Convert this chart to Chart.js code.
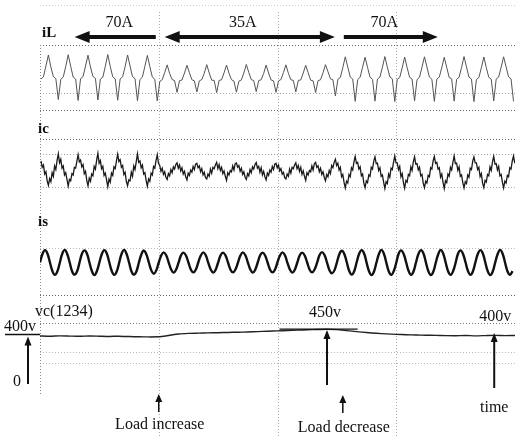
<!DOCTYPE html>
<html>
<head>
<meta charset="utf-8">
<script src="https://cdn.jsdelivr.net/npm/chart.js@4.4.1/dist/chart.umd.min.js"></script>
<style>
  html, body { margin: 0; padding: 0; background: #fff; }
  canvas { display: block; }
</style>
</head>
<body>
<canvas id="scope" width="515" height="437"></canvas>
<script>
// time base of the record (ms)
const TIME_MIN = 0;
const TIME_MAX = 480;
const GRID_TIMES = [120, 240, 360];

// load current iL (A), one sample every 2.5 ms from t = 1 ms
const IL_T0 = 1, IL_DT = 2.5;
const iL = [
  -6, 3, 52, 100, 46, 4, -5, -98,
  -8, 2, 49, 101, 50, 2, -7, -102,
  -5, 4, 51, 99, 47, 5, -4, -100,
  -7, 1, 50, 102, 49, 3, -6, -101,
  -6, 3, 48, 100, 51, 4, -5, -103,
  -9, 2, 50, 98, 48, 2, -8, -104,
  -18, -10, 22, 56, 18, -9, -14, -66,
  -14, -11, 20, 54, 21, -10, -15, -64,
  -15, -9, 19, 57, 20, -12, -13, -67,
  -13, -10, 21, 55, 19, -10, -16, -65,
  -16, -11, 20, 58, 22, -9, -14, -63,
  -14, -10, 18, 55, 20, -11, -15, -66,
  -15, -9, 22, 56, 19, -10, -13, -64,
  -13, -11, 20, 54, 21, -12, -15, -67,
  -14, -10, 21, 57, 26, -6, -10, -82,
  -8, 0, 44, 92, 47, 2, -7, -106,
  -9, 1, 46, 90, 45, 1, -8, -105,
  -7, 2, 45, 93, 46, 3, -6, -107,
  -8, 0, 43, 91, 44, 1, -7, -104,
  -9, 1, 46, 92, 47, 2, -8, -106,
  -7, 2, 44, 90, 45, 0, -6, -105,
  -8, 1, 45, 93, 46, 2, -7, -107,
  -9, 0, 43, 91, 44, 1, -8, -104,
  -7, 2, 46, 92, 47, 3, -6, -106
];

// compensator current ic (A), one sample every 1.25 ms from t = 1 ms
const IC_T0 = 1, IC_DT = 1.25;
const ic = [
  40, 12, 22, -18, -8, -48, -68, -38, -52, -12, -28, 18, 2, 42, 72, 32,
  48, 8, 18, -22, -12, -42, -72, -42, -48, -16, -22, 12, 8, 38, 68, 36,
  44, 14, 24, -16, -6, -46, -70, -36, -50, -18, -26, 16, 4, 44, 74, 30,
  42, 6, 16, -24, -14, -44, -74, -40, -54, -14, -24, 14, 6, 40, 70, 38,
  46, 12, 20, -20, -10, -50, -70, -44, -48, -10, -28, 18, 2, 36, 72, 34,
  40, 10, 22, -18, -12, -46, -72, -40, -50, -14, -22, 16, 8, 42, 68, 30,
  20, -6, 8, -20, -8, -32, -42, -16, -26, 2, -12, 14, 4, 24, 32, 8,
  22, -4, 10, -18, -6, -30, -44, -14, -24, 0, -10, 16, 2, 26, 30, 10,
  18, -8, 6, -22, -10, -34, -40, -18, -28, 4, -14, 12, 6, 22, 34, 6,
  24, -2, 12, -16, -4, -28, -46, -12, -22, -2, -8, 18, 0, 28, 31, 12,
  20, -6, 8, -20, -8, -32, -42, -16, -26, 2, -12, 14, 4, 24, 33, 8,
  16, -10, 10, -22, -6, -30, -44, -14, -24, 0, -10, 16, 2, 26, 30, 10,
  22, -4, 6, -18, -10, -34, -40, -18, -28, 4, -14, 12, 6, 22, 32, 6,
  20, -6, 12, -20, -4, -28, -46, -12, -22, -2, -8, 18, 0, 28, 34, 12,
  18, -8, 8, -20, -8, -32, -48, -20, -30, -2, -16, 20, 10, 34, 48, 20,
  30, 0, 12, -30, -20, -55, -80, -50, -58, -20, -30, 10, 0, 36, 60, 30,
  34, 4, 14, -26, -18, -58, -78, -48, -56, -22, -28, 12, 4, 38, 58, 28,
  30, -2, 10, -28, -22, -54, -82, -52, -60, -18, -32, 8, 2, 34, 62, 32,
  32, 2, 16, -30, -16, -56, -80, -46, -54, -20, -26, 14, -2, 36, 58, 26,
  28, 0, 12, -26, -20, -58, -78, -50, -58, -24, -30, 10, 4, 40, 60, 30,
  34, 4, 10, -32, -18, -54, -82, -48, -56, -18, -28, 12, 0, 34, 62, 28,
  30, -2, 14, -28, -22, -56, -80, -52, -60, -22, -32, 8, 2, 38, 58, 32,
  32, 2, 12, -30, -16, -58, -78, -46, -54, -20, -26, 14, -2, 36, 60, 26,
  28, 0, 16, -26, -20, -54, -80, -50, -58, -24, -30, 10, 4, 40, 62, 30
];

// source current is (A), one sample every 2.5 ms from t = 0
const IS_T0 = 0, IS_DT = 2.5;
const is = [
  0, 38, 55, 40, 1, -38, -55, -40,
  -1, 39, 56, 38, 0, -40, -54, -39,
  1, 40, 54, 39, -1, -39, -56, -38,
  0, 38, 55, 40, 1, -38, -55, -40,
  -1, 39, 56, 38, 0, -40, -54, -39,
  1, 37, 53, 36, 0, -35, -50, -35,
  0, 31, 45, 32, 1, -31, -45, -32,
  -1, 32, 44, 31, 0, -32, -44, -31,
  1, 31, 45, 32, -1, -31, -45, -32,
  0, 32, 44, 31, 0, -32, -44, -31,
  -1, 31, 45, 32, 1, -31, -45, -32,
  0, 32, 44, 31, 0, -32, -44, -31,
  1, 31, 45, 32, -1, -31, -45, -32,
  0, 32, 44, 31, 0, -32, -44, -31,
  -1, 33, 46, 33, 0, -34, -48, -35,
  0, 37, 52, 38, 1, -38, -54, -39,
  1, 39, 55, 40, 0, -39, -56, -40,
  0, 38, 56, 39, -1, -40, -55, -38,
  -1, 40, 54, 38, 1, -38, -55, -39,
  1, 39, 55, 40, 0, -39, -56, -40,
  0, 38, 56, 39, -1, -40, -55, -38,
  -1, 40, 54, 38, 1, -38, -55, -39,
  1, 39, 55, 40, 0, -39, -56, -40,
  0, 38, 56, 39, -1, -40, -55, -38
];

// dc link voltage vc(1234) (V), one sample every 10 ms from t = 0
const VC_T0 = 0, VC_DT = 10;
const vc = [
  388, 386, 389, 387, 385, 388, 386, 384, 386, 383,
  381, 380, 381, 392, 404, 409, 411, 413, 415, 417,
  419, 421, 424, 427, 430, 433, 436, 439, 441, 443,
  440, 432, 424, 416, 410, 405, 401, 398, 396, 394,
  393, 391, 390, 392, 389, 391, 393, 391, 392
];

// annotations
const currentBands = ['70A', '35A', '70A'];
const bandFrom = [35, 126, 307];
const bandTo = [117, 298, 402];
const bandTextAt = [80, 205, 348];
const bandHeads = ['start', 'both', 'end'];
const loadEvents = ['Load increase', 'Load decrease'];
const loadEventTimes = [120, 306];
const VC_NOMINAL = 400;
const VC_PEAK = 445;
const VC_PEAK_FROM = 242, VC_PEAK_TO = 321;
const VC_PEAK_TIME = 290;
const TIME_MARK = 459;

const toPoints = (vals, t0, dt) => vals.map((v, i) => ({ x: t0 + i * dt, y: v }));

// each trace gets its own hidden axis so it sits in its band: centre pixel, pixels per unit
const CANVAS_H = 437;
function band(centrePx, pxPerUnit) {
  return { min: (centrePx - CANVAS_H) / pxPerUnit, max: centrePx / pxPerUnit };
}

function drawArrow(ctx, x1, y1, x2, y2, w, headLen, headHalf, heads) {
  const ang = Math.atan2(y2 - y1, x2 - x1);
  const cos = Math.cos(ang), sin = Math.sin(ang);
  const sx = heads === 'start' || heads === 'both' ? x1 + cos * headLen * 0.8 : x1;
  const sy = heads === 'start' || heads === 'both' ? y1 + sin * headLen * 0.8 : y1;
  const ex = heads === 'end' || heads === 'both' ? x2 - cos * headLen * 0.8 : x2;
  const ey = heads === 'end' || heads === 'both' ? y2 - sin * headLen * 0.8 : y2;
  ctx.lineWidth = w;
  ctx.beginPath();
  ctx.moveTo(sx, sy);
  ctx.lineTo(ex, ey);
  ctx.stroke();
  const head = (tx, ty, dir) => {
    const c = Math.cos(dir), s = Math.sin(dir);
    ctx.beginPath();
    ctx.moveTo(tx, ty);
    ctx.lineTo(tx - c * headLen - s * headHalf, ty - s * headLen + c * headHalf);
    ctx.lineTo(tx - c * headLen + s * headHalf, ty - s * headLen - c * headHalf);
    ctx.closePath();
    ctx.fill();
  };
  if (heads === 'end' || heads === 'both') head(x2, y2, ang);
  if (heads === 'start' || heads === 'both') head(x1, y1, ang + Math.PI);
}

const scopeDecor = {
  id: 'scopeDecor',
  beforeDraw(chart) {
    const ctx = chart.ctx;
    ctx.save();
    ctx.fillStyle = '#fff';
    ctx.fillRect(0, 0, chart.width, chart.height);
    ctx.restore();
  },
  beforeDatasetsDraw(chart) {
    const { ctx, chartArea } = chart;
    const x = chart.scales.x;
    ctx.save();
    ctx.lineWidth = 1;
    ctx.setLineDash([1, 2]);
    // dotted screen rules
    const rules = [[5, '#ccc'], [45, '#666'], [93, '#aaa'], [110, '#666'], [139, '#666'],
      [154, '#aaa'], [187, '#aaa'], [248, '#bbb'], [295, '#666'], [323, '#777'],
      [352, '#bbb'], [363, '#bbb']];
    rules.forEach(([y, c]) => {
      ctx.strokeStyle = c;
      ctx.beginPath();
      ctx.moveTo(chartArea.left, y + 0.5);
      ctx.lineTo(chartArea.right, y + 0.5);
      ctx.stroke();
    });
    ctx.strokeStyle = '#888';
    ctx.beginPath();
    ctx.moveTo(chartArea.left + 0.5, 45);
    ctx.lineTo(chartArea.left + 0.5, 395);
    ctx.stroke();
    ctx.strokeStyle = '#aaa';
    GRID_TIMES.forEach(t => {
      const px = Math.round(x.getPixelForValue(t)) + 0.5;
      ctx.beginPath();
      ctx.moveTo(px, 12);
      ctx.lineTo(px, CANVAS_H);
      ctx.stroke();
    });
    ctx.restore();
  },
  afterDatasetsDraw(chart) {
    const ctx = chart.ctx;
    const x = chart.scales.x;
    const yv = chart.scales.yVC;
    ctx.save();
    ctx.fillStyle = '#111';
    ctx.strokeStyle = '#111';
    ctx.textAlign = 'center';
    ctx.textBaseline = 'middle';

    // load current bands on top
    ctx.font = '16px "Liberation Serif", serif';
    currentBands.forEach((lab, i) => {
      ctx.fillText(lab, x.getPixelForValue(bandTextAt[i]), 23);
      drawArrow(ctx, x.getPixelForValue(bandFrom[i]), 37, x.getPixelForValue(bandTo[i]), 37, 4, 15, 6, bandHeads[i]);
    });

    // trace names
    ctx.textAlign = 'left';
    ctx.font = 'bold 15px "Liberation Serif", serif';
    ctx.fillText('iL', 42, 33);
    ctx.fillText('ic', 38, 129);
    ctx.fillText('is', 38, 222);
    ctx.font = '16px "Liberation Serif", serif';
    ctx.fillText('vc(1234)', 35, 312);

    // voltage scale on the left
    const y400 = yv.getPixelForValue(VC_NOMINAL);
    const y0 = yv.getPixelForValue(0);
    ctx.fillText('400v', 4, y400 - 8);
    ctx.lineWidth = 1.5;
    ctx.beginPath();
    ctx.moveTo(5, y400);
    ctx.lineTo(40, y400);
    ctx.stroke();
    ctx.textAlign = 'center';
    ctx.fillText('0', 17, y0 - 1);
    drawArrow(ctx, 28, y0 + 1, 28, y400 + 2, 2, 9, 3.5, 'end');

    // 450v peak marker
    const yPeak = yv.getPixelForValue(VC_PEAK);
    ctx.lineWidth = 1.3;
    ctx.beginPath();
    ctx.moveTo(x.getPixelForValue(VC_PEAK_FROM), yPeak);
    ctx.lineTo(x.getPixelForValue(VC_PEAK_TO), yPeak);
    ctx.stroke();
    ctx.fillText('450v', x.getPixelForValue(VC_PEAK_TIME) - 2, 313);
    drawArrow(ctx, x.getPixelForValue(VC_PEAK_TIME), 385, x.getPixelForValue(VC_PEAK_TIME), yPeak + 1, 2, 9, 3.5, 'end');

    // right side: 400v and time
    const xt = x.getPixelForValue(TIME_MARK);
    ctx.fillText('400v', xt + 1, 317);
    drawArrow(ctx, xt, 388, xt, 333, 2, 9, 3.5, 'end');
    ctx.fillText('time', xt, 408);

    // load events under the plot
    loadEvents.forEach((lab, i) => {
      const px = x.getPixelForValue(loadEventTimes[i]);
      drawArrow(ctx, px, 412 + i, px, 394 + i, 1.5, 8, 3.5, 'end');
      ctx.fillText(lab, px + 1, 425 + i * 3);
    });
    ctx.restore();
  }
};

new Chart(document.getElementById('scope'), {
  type: 'line',
  data: {
    datasets: [
      { label: 'iL', data: toPoints(iL, IL_T0, IL_DT), yAxisID: 'yIL',
        borderColor: '#555', borderWidth: 1, tension: 0 },
      { label: 'ic', data: toPoints(ic, IC_T0, IC_DT), yAxisID: 'yIC',
        borderColor: '#1a1a1a', borderWidth: 1.3, tension: 0 },
      { label: 'is', data: toPoints(is, IS_T0, IS_DT), yAxisID: 'yIS',
        borderColor: '#111', borderWidth: 2.4, tension: 0.4 },
      { label: 'vc', data: toPoints(vc, VC_T0, VC_DT), yAxisID: 'yVC',
        borderColor: '#222', borderWidth: 1.4, tension: 0.2 }
    ]
  },
  options: {
    responsive: false,
    animation: false,
    layout: { padding: { left: 40, right: 0, top: 0, bottom: 0 } },
    elements: { point: { radius: 0 } },
    plugins: { legend: { display: false }, tooltip: { enabled: false } },
    scales: {
      x: { type: 'linear', min: TIME_MIN, max: TIME_MAX, display: false },
      yIL: Object.assign({ type: 'linear', display: false }, band(77.5, 0.225)),
      yIC: Object.assign({ type: 'linear', display: false }, band(170, 0.225)),
      yIS: Object.assign({ type: 'linear', display: false }, band(262.5, 0.225)),
      yVC: Object.assign({ type: 'linear', display: false }, band(383, 0.12125))
    }
  },
  plugins: [scopeDecor]
});
</script>
</body>
</html>
